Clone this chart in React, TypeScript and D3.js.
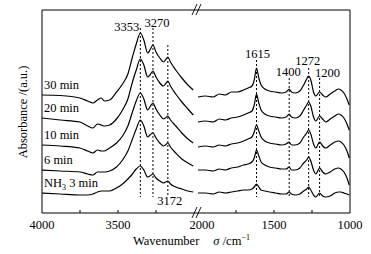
import React from 'react';
import * as d3 from 'd3';

const SERIES_LABELS = ['30 min', '20 min', '10 min', '6 min', 'NH3 3 min'];

const LEFT_WN = [4000, 3880, 3750, 3700, 3665, 3635, 3610, 3590, 3555, 3510, 3470, 3435, 3405, 3380, 3353, 3330, 3305, 3290, 3270, 3250, 3225, 3200, 3188, 3172, 3155, 3120, 3080, 3040, 3005];
const RIGHT_WN = [2000, 1950, 1900, 1860, 1820, 1780, 1740, 1700, 1670, 1645, 1630, 1615, 1600, 1585, 1560, 1530, 1490, 1450, 1420, 1400, 1385, 1360, 1330, 1305, 1285, 1272, 1258, 1240, 1225, 1200, 1180, 1160, 1130, 1100, 1075, 1060, 1040, 1020, 1005];

const LEFT_30 = [1.18, 1.175, 1.15, 1.12, 1.10, 1.13, 1.15, 1.12, 1.13, 1.21, 1.29, 1.39, 1.56, 1.69, 1.80, 1.73, 1.60, 1.63, 1.68, 1.61, 1.55, 1.51, 1.53, 1.56, 1.51, 1.43, 1.35, 1.28, 1.23];
const LEFT_20 = [0.95, 0.93, 0.91, 0.87, 0.85, 0.89, 0.88, 0.87, 0.88, 0.94, 1.03, 1.14, 1.31, 1.43, 1.54, 1.48, 1.36, 1.38, 1.42, 1.36, 1.30, 1.27, 1.29, 1.32, 1.27, 1.19, 1.11, 1.04, 0.98];
const LEFT_10 = [0.68, 0.67, 0.65, 0.62, 0.60, 0.63, 0.62, 0.62, 0.65, 0.70, 0.77, 0.87, 1.01, 1.12, 1.20, 1.14, 1.03, 1.06, 1.10, 1.04, 0.98, 0.94, 0.95, 0.97, 0.93, 0.87, 0.80, 0.74, 0.70];
const LEFT_6 = [0.43, 0.42, 0.41, 0.39, 0.38, 0.41, 0.41, 0.41, 0.42, 0.46, 0.53, 0.62, 0.74, 0.84, 0.93, 0.87, 0.76, 0.78, 0.80, 0.75, 0.70, 0.67, 0.68, 0.70, 0.66, 0.60, 0.54, 0.50, 0.47];
const LEFT_3 = [0.20, 0.19, 0.18, 0.18, 0.19, 0.21, 0.22, 0.22, 0.22, 0.25, 0.29, 0.34, 0.39, 0.44, 0.47, 0.43, 0.36, 0.37, 0.39, 0.35, 0.32, 0.30, 0.31, 0.32, 0.29, 0.26, 0.24, 0.22, 0.21];

const RIGHT_30 = [1.16, 1.17, 1.16, 1.19, 1.18, 1.21, 1.21, 1.23, 1.25, 1.27, 1.33, 1.45, 1.35, 1.28, 1.24, 1.22, 1.21, 1.20, 1.21, 1.24, 1.21, 1.20, 1.22, 1.28, 1.34, 1.37, 1.33, 1.21, 1.17, 1.21, 1.18, 1.16, 1.19, 1.22, 1.24, 1.23, 1.20, 1.14, 1.08];
const RIGHT_20 = [0.91, 0.92, 0.91, 0.94, 0.93, 0.95, 0.96, 0.98, 1.00, 1.02, 1.08, 1.19, 1.10, 1.03, 0.99, 0.97, 0.96, 0.95, 0.96, 0.99, 0.96, 0.95, 0.97, 1.03, 1.08, 1.11, 1.07, 0.96, 0.92, 0.97, 0.94, 0.91, 0.94, 0.97, 0.99, 0.98, 0.95, 0.89, 0.83];
const RIGHT_10 = [0.66, 0.67, 0.66, 0.68, 0.67, 0.69, 0.70, 0.72, 0.74, 0.76, 0.81, 0.88, 0.82, 0.76, 0.72, 0.70, 0.69, 0.68, 0.69, 0.71, 0.68, 0.68, 0.70, 0.76, 0.80, 0.83, 0.79, 0.69, 0.65, 0.71, 0.67, 0.65, 0.68, 0.71, 0.72, 0.71, 0.68, 0.62, 0.55];
const RIGHT_6 = [0.43, 0.43, 0.42, 0.44, 0.43, 0.45, 0.46, 0.48, 0.49, 0.51, 0.55, 0.63, 0.57, 0.51, 0.48, 0.46, 0.45, 0.44, 0.44, 0.46, 0.43, 0.43, 0.45, 0.50, 0.53, 0.56, 0.52, 0.43, 0.39, 0.45, 0.41, 0.39, 0.41, 0.44, 0.45, 0.44, 0.41, 0.35, 0.28];
const RIGHT_3 = [0.20, 0.20, 0.19, 0.21, 0.20, 0.21, 0.22, 0.23, 0.23, 0.24, 0.26, 0.29, 0.26, 0.23, 0.22, 0.21, 0.20, 0.19, 0.19, 0.21, 0.19, 0.18, 0.19, 0.22, 0.24, 0.26, 0.23, 0.18, 0.16, 0.20, 0.17, 0.16, 0.17, 0.20, 0.21, 0.21, 0.20, 0.19, 0.18];

const LEFT_SERIES = [LEFT_30, LEFT_20, LEFT_10, LEFT_6, LEFT_3];
const RIGHT_SERIES = [RIGHT_30, RIGHT_20, RIGHT_10, RIGHT_6, RIGHT_3];

const LEFT_TICK_LABELS = [4000, 3500];
const LEFT_TICKS = [3750, 3500, 3250];
const RIGHT_TICK_LABELS = [2000, 1500, 1000];
const RIGHT_TICKS = [1750, 1500, 1250];

const LEFT_PEAKS = [3353, 3270, 3172];
const LEFT_PEAK_TOPS = [1.85, 1.85, 1.68];
const RIGHT_PEAKS = [1615, 1400, 1272, 1200];
const RIGHT_PEAK_TOPS = [1.53, 1.35, 1.45, 1.35];
const PEAK_BOTTOM = 0.16;

const FONT = '"Liberation Serif", "Times New Roman", serif';

export default function App() {
  const W = 371, H = 254;
  const left = 42, right = 350, top = 10, bottom = 213;
  const xL = d3.scaleLinear().domain([4000, 3000]).range([left, 194]);
  const xR = d3.scaleLinear().domain([2000, 1000]).range([198, right]);
  const y = d3.scaleLinear().domain([0, 2.03]).range([bottom, top]);

  const lineL = d3.line<number>().x((_, i) => xL(LEFT_WN[i])).y((d) => y(d)).curve(d3.curveMonotoneX);
  const lineR = d3.line<number>().x((_, i) => xR(RIGHT_WN[i])).y((d) => y(d)).curve(d3.curveMonotoneX);

  const fs = 12.5;
  const brk = 196;

  return (
    <svg width={W} height={H} style={{ position: 'absolute', left: 0, top: 0, background: '#fff' }} fontFamily={FONT}>
      <rect x={0} y={0} width={W} height={H} fill="#fff" />
      {/* frame */}
      <line x1={left} y1={top} x2={right} y2={top} stroke="#000" strokeWidth={1} />
      <line x1={left} y1={bottom} x2={right} y2={bottom} stroke="#000" strokeWidth={1} />
      <line x1={left} y1={top} x2={left} y2={bottom} stroke="#000" strokeWidth={1} />
      <line x1={right} y1={top} x2={right} y2={bottom} stroke="#000" strokeWidth={1} />
      {/* ticks */}
      {LEFT_TICKS.map((t) => (
        <line key={'lt' + t} x1={xL(t)} x2={xL(t)} y1={bottom} y2={bottom - 3} stroke="#000" />
      ))}
      {RIGHT_TICKS.map((t) => (
        <line key={'rt' + t} x1={xR(t)} x2={xR(t)} y1={bottom} y2={bottom - 3} stroke="#000" />
      ))}
      {LEFT_TICK_LABELS.map((t) => (
        <text key={'ll' + t} x={xL(t)} y={229} fontSize={fs} textAnchor="middle">{t}</text>
      ))}
      {RIGHT_TICK_LABELS.map((t, i) => (
        <text key={'rl' + t} x={xR(t) + (i === 0 ? 4 : 0)} y={229} fontSize={fs} textAnchor="middle">{t}</text>
      ))}
      {/* break marks */}
      {[0, 4].map((o) => (
        <g key={'b' + o}>
          <line x1={brk - 4 + o} y1={218} x2={brk + 1 + o} y2={207} stroke="#000" strokeWidth={0.9} />
          <line x1={brk - 4 + o} y1={15} x2={brk + 1 + o} y2={4} stroke="#000" strokeWidth={0.9} />
        </g>
      ))}
      {/* dashed lines */}
      {LEFT_PEAKS.map((p, i) => (
        <line key={'ld' + p} x1={xL(p)} x2={xL(p)} y1={y(LEFT_PEAK_TOPS[i])} y2={y(PEAK_BOTTOM)} stroke="#000" strokeWidth={1} strokeDasharray="2,2" />
      ))}
      {RIGHT_PEAKS.map((p, i) => (
        <line key={'rd' + p} x1={xR(p)} x2={xR(p)} y1={y(RIGHT_PEAK_TOPS[i])} y2={y(PEAK_BOTTOM)} stroke="#000" strokeWidth={1} strokeDasharray="2,2" />
      ))}
      {/* spectra */}
      {LEFT_SERIES.map((s, i) => (
        <path key={'ls' + i} d={lineL(s) || ''} fill="none" stroke="#000" strokeWidth={1.2} />
      ))}
      {RIGHT_SERIES.map((s, i) => (
        <path key={'rs' + i} d={lineR(s) || ''} fill="none" stroke="#000" strokeWidth={1.2} />
      ))}
      {/* series labels */}
      {SERIES_LABELS.map((lab, i) => (
        <text key={'sl' + i} x={left + 2} y={y(LEFT_SERIES[i][0]) - 6} fontSize={fs}>
          {lab.startsWith('NH3') ? (
            <>
              NH<tspan fontSize={8} dy={3}>3</tspan>
              <tspan dy={-3}> 3 min</tspan>
            </>
          ) : lab}
        </text>
      ))}
      {/* peak labels */}
      <text x={xL(3353) - 1} y={31} fontSize={fs} textAnchor="end">3353</text>
      <text x={xL(3270) + 4} y={27} fontSize={fs} textAnchor="middle">3270</text>
      <text x={xL(3172) + 2} y={205} fontSize={fs} textAnchor="middle">3172</text>
      <text x={xR(1615) + 1} y={58} fontSize={fs} textAnchor="middle">1615</text>
      <text x={xR(1400) - 1} y={76} fontSize={fs} textAnchor="middle">1400</text>
      <text x={xR(1272) - 1} y={65} fontSize={fs} textAnchor="middle">1272</text>
      <text x={xR(1200) + 8} y={77} fontSize={fs} textAnchor="middle">1200</text>
      {/* axis titles */}
      <text x={23} y={112} fontSize={fs} textAnchor="middle" transform="rotate(-90 23 112)" dy="0.35em">Absorbance /(a.u.)</text>
      <text x={133} y={245} fontSize={fs}>
        Wavenumber
        <tspan dx={14} fontStyle="italic">σ</tspan>
        <tspan> /cm</tspan>
        <tspan fontSize={8} dy={-5}>−1</tspan>
      </text>
    </svg>
  );
}
